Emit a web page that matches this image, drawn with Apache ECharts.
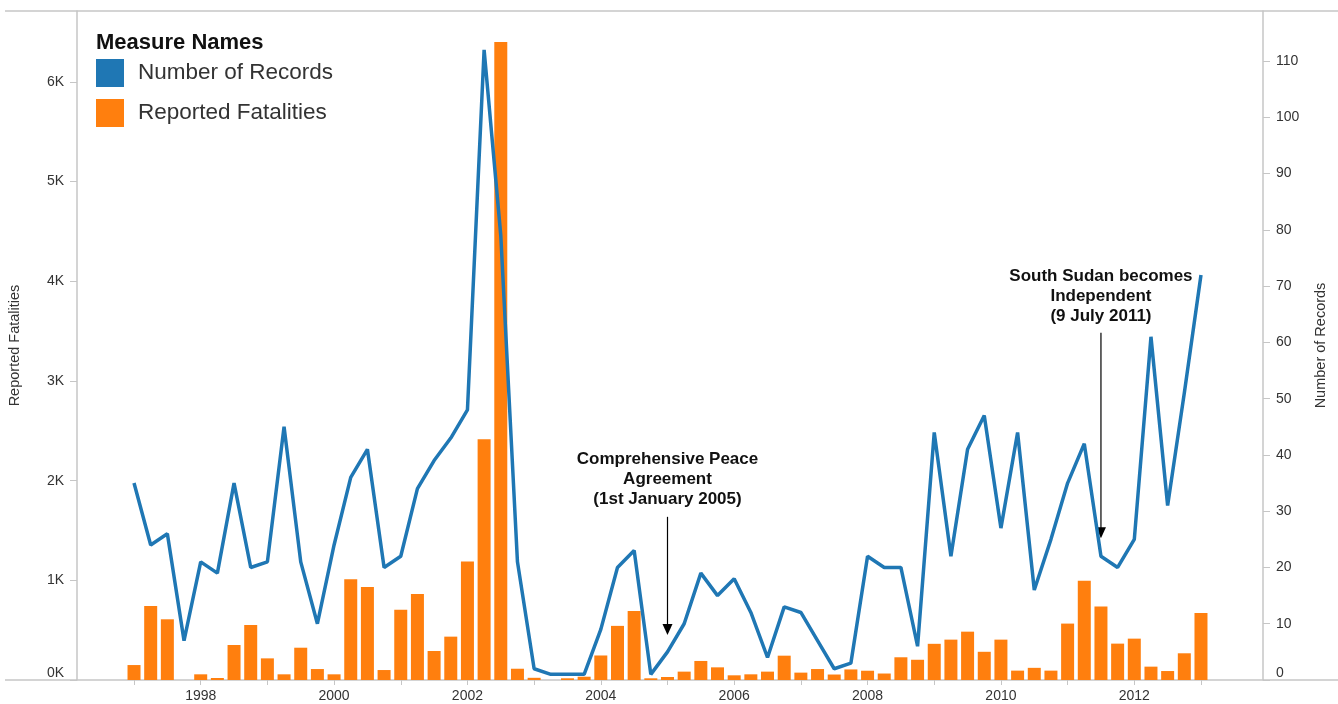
<!DOCTYPE html>
<html>
<head>
<meta charset="utf-8">
<script src="https://cdn.jsdelivr.net/npm/echarts@6/dist/echarts.min.js"></script>
<style>
html,body{margin:0;padding:0;background:#fff;}
#main{width:1338px;height:704px;}
</style>
</head>
<body>
<div id="main"></div>
<script>
// ---- data (quarterly, 1997 Q1 .. 2013 Q1) ----
const startYear = 1997;
const fatalities = [
  150, 742, 609, 0,
  57, 20, 351, 552,
  217, 57, 324, 110,
  57, 1010, 932, 100,
  704, 862, 291, 435,
  1188, 2415, 6400, 113,
  22, 0, 17, 33,
  246, 543, 692, 17,
  30, 84, 191, 127,
  47, 57, 84, 244,
  74, 110, 55, 106,
  93, 65, 228, 203,
  363, 405, 485, 283,
  405, 94, 122, 94,
  566, 996, 738, 365,
  415, 134, 90, 268,
  672
];
const records = [
  35, 24, 26, 7,
  21, 19, 35, 20,
  21, 45, 21, 10,
  24, 36, 41, 20,
  22, 34, 39, 43,
  48, 112, 79, 21,
  2, 1, 1, 1,
  9, 20, 23, 1,
  5, 10, 19, 15,
  18, 12, 4, 13,
  12, 7, 2, 3,
  22, 20, 20, 6,
  44, 22, 41, 47,
  27, 44, 16, 25,
  35, 42, 22, 20,
  25, 61, 31, 51,
  72
];
const yearTicks = [1997,1998,1999,2000,2001,2002,2003,2004,2005,2006,2007,2008,2009,2010,2011,2012,2013];
const yearLabels = [1998,2000,2002,2004,2006,2008,2010,2012];
const fatalityTicks = [0,1000,2000,3000,4000,5000,6000];
const recordTicks = [0,10,20,30,40,50,60,70,80,90,100,110];
const annotations = [
  { x: 2005.0, lines: ['Comprehensive Peace', 'Agreement', '(1st January 2005)'], textY: 35.7, arrowFrom: 29.0, arrowTo: 8.0 },
  { x: 2011.5, lines: ['South Sudan becomes', 'Independent', '(9 July 2011)'], textY: 68.2, arrowFrom: 61.7, arrowTo: 25.2 }
];

(function () {
  // quarter positions on a continuous year axis
  const quarterPos = fatalities.map((_, i) => startYear + i / 4);

  const FONT = 'Arial, "Liberation Sans", sans-serif';
  const AXIS_COLOR = '#c6c6c6';
  const TEXT_COLOR = '#333';

  const chart = echarts.init(document.getElementById('main'), null, { renderer: 'canvas' });

  const option = {
    animation: false,
    backgroundColor: '#fff',
    textStyle: { fontFamily: FONT },
    grid: { left: 77, right: 75, top: 11, bottom: 24, containLabel: false, outerBoundsMode: 'none' },
    legend: {
      orient: 'vertical',
      left: 96,
      top: 59,
      padding: 0,
      itemWidth: 28,
      itemHeight: 28,
      itemGap: 12,
      icon: 'rect',
      selectedMode: false,
      data: ['Number of Records', 'Reported Fatalities'],
      textStyle: { fontSize: 22.5, color: TEXT_COLOR, fontFamily: FONT, padding: [6, 0, 0, 9] }
    },
    xAxis: {
      type: 'value',
      min: 1996.145,
      max: 2013.93,
      axisLine: { show: true, lineStyle: { color: AXIS_COLOR, width: 1.5 } },
      axisTick: { show: true, customValues: yearTicks, length: 5, lineStyle: { color: AXIS_COLOR } },
      axisLabel: { customValues: yearLabels, margin: 9, fontSize: 14, color: TEXT_COLOR, formatter: v => String(v) },
      splitLine: { show: false }
    },
    yAxis: [
      {
        type: 'value',
        position: 'left',
        min: 0,
        max: 6712,
        axisLine: { show: true, lineStyle: { color: AXIS_COLOR, width: 1.5 } },
        axisTick: { show: true, customValues: fatalityTicks, length: 7, lineStyle: { color: AXIS_COLOR } },
        axisLabel: { customValues: fatalityTicks, margin: 13, fontSize: 14, color: TEXT_COLOR,
          formatter: v => (v / 1000) + 'K', verticalAlignMinLabel: 'bottom' },
        splitLine: { show: false },
        name: 'Reported Fatalities',
        nameLocation: 'middle',
        nameGap: 55,
        nameRotate: 90,
        nameTextStyle: { fontSize: 14.5, color: TEXT_COLOR }
      },
      {
        type: 'value',
        position: 'right',
        min: 0,
        max: 118.9,
        axisLine: { show: true, lineStyle: { color: AXIS_COLOR, width: 1.5 } },
        axisTick: { show: true, customValues: recordTicks, length: 7, lineStyle: { color: AXIS_COLOR } },
        axisLabel: { customValues: recordTicks, margin: 13, fontSize: 14, color: TEXT_COLOR,
          verticalAlignMinLabel: 'bottom' },
        splitLine: { show: false },
        name: 'Number of Records',
        nameLocation: 'middle',
        nameGap: 50,
        nameRotate: 90,
        nameTextStyle: { fontSize: 14.5, color: TEXT_COLOR }
      }
    ],
    series: [
      {
        name: 'Reported Fatalities',
        type: 'bar',
        xAxisIndex: 0,
        yAxisIndex: 0,
        barWidth: 13,
        itemStyle: { color: '#ff7f0e' },
        data: quarterPos.map((x, i) => [x, fatalities[i]]),
        z: 2
      },
      {
        name: 'Number of Records',
        type: 'line',
        xAxisIndex: 0,
        yAxisIndex: 1,
        symbol: 'none',
        lineStyle: { width: 3.5, color: '#1f77b4' },
        itemStyle: { color: '#1f77b4' },
        data: quarterPos.map((x, i) => [x, records[i]]),
        z: 3
      }
    ]
  };

  chart.setOption(option);

  // decorations + annotations placed through the chart's own scales
  const graphics = [];
  const p00 = chart.convertToPixel({ seriesIndex: 1 }, [1996.145, 0]);
  const p11 = chart.convertToPixel({ seriesIndex: 1 }, [2013.93, 118.9]);
  const gLeft = p00[0], gBottom = p00[1], gRight = p11[0], gTop = p11[1];
  graphics.push({ type: 'line', silent: true, shape: { x1: 5, y1: gTop, x2: 1338, y2: gTop }, style: { stroke: AXIS_COLOR, lineWidth: 1.5 } });
  graphics.push({ type: 'line', silent: true, shape: { x1: 5, y1: gBottom, x2: gLeft, y2: gBottom }, style: { stroke: AXIS_COLOR, lineWidth: 1.5 } });
  graphics.push({ type: 'line', silent: true, shape: { x1: gRight, y1: gBottom, x2: 1338, y2: gBottom }, style: { stroke: AXIS_COLOR, lineWidth: 1.5 } });
  graphics.push({ type: 'text', silent: true, left: 96, top: 32, style: { text: 'Measure Names', font: 'bold 22px ' + FONT, fill: '#111' } });

  annotations.forEach(a => {
    const pText = chart.convertToPixel({ seriesIndex: 1 }, [a.x, a.textY]);
    const pFrom = chart.convertToPixel({ seriesIndex: 1 }, [a.x, a.arrowFrom]);
    const pTo = chart.convertToPixel({ seriesIndex: 1 }, [a.x, a.arrowTo]);
    graphics.push({
      type: 'text', x: pText[0], y: pText[1], silent: true,
      style: { text: a.lines.join('\n'), font: 'bold 17px ' + FONT, lineHeight: 20, fill: '#111', align: 'center', verticalAlign: 'middle' }
    });
    graphics.push({ type: 'line', silent: true, shape: { x1: pFrom[0], y1: pFrom[1], x2: pTo[0], y2: pTo[1] - 8 }, style: { stroke: '#000', lineWidth: 1.2 } });
    graphics.push({ type: 'polygon', silent: true, shape: { points: [[pTo[0] - 5, pTo[1] - 11], [pTo[0] + 5, pTo[1] - 11], [pTo[0], pTo[1]]] }, style: { fill: '#000' } });
  });

  chart.setOption({ graphic: graphics });
})();
</script>
</body>
</html>
